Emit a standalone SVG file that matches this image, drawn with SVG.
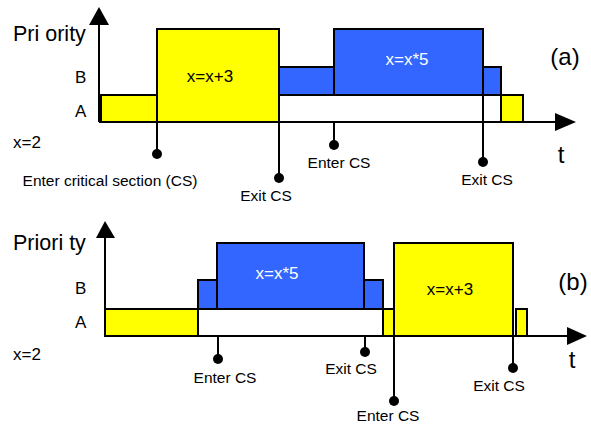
<svg xmlns="http://www.w3.org/2000/svg" width="591" height="428" viewBox="0 0 591 428">
<style>
  text { font-family: "Liberation Sans", Arial, sans-serif; fill: #000; }
  .lbl { font-size: 15.5px; text-anchor: middle; }
  .big { font-size: 21.5px; }
  .lev { font-size: 17px; }
  .code { font-size: 17px; text-anchor: middle; }
  .wcode { font-size: 17px; text-anchor: middle; fill: #fff; }
  .tag { font-size: 24px; text-anchor: middle; }
  .y { fill: #ffff00; stroke: #000; stroke-width: 2; }
  .b { fill: #3366ff; stroke: #000; stroke-width: 2; }
  .w { fill: #fff; stroke: #000; stroke-width: 2; }
  .ax { stroke: #000; stroke-width: 2; fill: none; }
  .head { fill: #000; }
  .pin { stroke: #000; stroke-width: 2; }
  .dot { fill: #000; }
</style>
<rect width="591" height="428" fill="#fff"/>

<!-- Panel (a) -->
<g id="panel-a">
  <g id="a-labels">
    <text class="big" x="13" y="41">Pri ority</text>
    <text class="lev" x="75" y="83">B</text>
    <text class="lev" x="75" y="117">A</text>
    <text class="lev" x="13" y="148">x=2</text>
    <text class="tag" x="565" y="65">(a)</text>
    <text class="tag" x="561" y="163">t</text>
  </g>
  <g id="a-bars">
    <rect class="y" x="101" y="95" width="56" height="27"/>
    <rect class="w" x="279" y="95" width="222" height="27"/>
    <rect class="b" x="279" y="67" width="55" height="28"/>
    <rect class="b" x="483" y="67" width="18" height="28"/>
    <rect class="b" x="334" y="29" width="149" height="66"/>
    <rect class="y" x="157" y="29" width="122" height="93"/>
    <rect class="y" x="501" y="95" width="22" height="27"/>
    <text class="code" x="210" y="82">x=x+3</text>
    <text class="wcode" x="407" y="65">x=x*5</text>
  </g>
  <g id="a-axes">
    <line class="ax" x1="99" y1="122" x2="99" y2="22"/>
    <polygon class="head" points="99,7 89,25 109,25"/>
    <line class="ax" x1="99" y1="122" x2="558" y2="122"/>
    <polygon class="head" points="576,122 555,113 555,131"/>
  </g>
  <g id="a-events">
    <line class="pin" x1="157" y1="122" x2="157" y2="154"/>
    <circle class="dot" cx="157" cy="154" r="5"/>
    <text class="lbl" x="110" y="186">Enter critical section (CS)</text>
    <line class="pin" x1="279" y1="122" x2="279" y2="178"/>
    <circle class="dot" cx="279" cy="178" r="5"/>
    <text class="lbl" x="266" y="201">Exit CS</text>
    <line class="pin" x1="334" y1="122" x2="334" y2="145"/>
    <circle class="dot" cx="334" cy="145" r="5"/>
    <text class="lbl" x="339" y="168">Enter CS</text>
    <line class="pin" x1="483" y1="95" x2="483" y2="162"/>
    <circle class="dot" cx="483" cy="162" r="5"/>
    <text class="lbl" x="487" y="185">Exit CS</text>
  </g>
</g>

<!-- Panel (b) -->
<g id="panel-b">
  <g id="b-labels">
    <text class="big" x="13" y="250">Priori ty</text>
    <text class="lev" x="75" y="294">B</text>
    <text class="lev" x="75" y="328">A</text>
    <text class="lev" x="13" y="360">x=2</text>
    <text class="tag" x="573" y="290">(b)</text>
    <text class="tag" x="572" y="368">t</text>
  </g>
  <g id="b-bars">
    <rect class="y" x="105" y="309" width="93" height="27"/>
    <rect class="w" x="198" y="309" width="185" height="27"/>
    <rect class="b" x="198" y="280" width="19" height="29"/>
    <rect class="b" x="364" y="280" width="19" height="29"/>
    <rect class="b" x="217" y="243" width="147" height="66"/>
    <rect class="y" x="383" y="309" width="11" height="27"/>
    <rect class="y" x="394" y="243" width="119" height="93"/>
    <rect class="y" x="516" y="309" width="11" height="27"/>
    <text class="wcode" x="277" y="279">x=x*5</text>
    <text class="code" x="450" y="295">x=x+3</text>
  </g>
  <g id="b-axes">
    <line class="ax" x1="105" y1="336" x2="105" y2="236"/>
    <polygon class="head" points="105,221 96,238 115,238"/>
    <line class="ax" x1="105" y1="336" x2="570" y2="336"/>
    <polygon class="head" points="587,336 567,327 567,345"/>
  </g>
  <g id="b-events">
    <line class="pin" x1="218" y1="336" x2="218" y2="359"/>
    <circle class="dot" cx="218" cy="359" r="5"/>
    <text class="lbl" x="225" y="383">Enter CS</text>
    <line class="pin" x1="365" y1="336" x2="365" y2="352"/>
    <circle class="dot" cx="365" cy="352" r="5"/>
    <text class="lbl" x="351" y="374">Exit CS</text>
    <line class="pin" x1="394" y1="336" x2="394" y2="401"/>
    <circle class="dot" cx="394" cy="401" r="5"/>
    <text class="lbl" x="388" y="421">Enter CS</text>
    <line class="pin" x1="513" y1="336" x2="513" y2="368"/>
    <circle class="dot" cx="513" cy="368" r="5"/>
    <text class="lbl" x="499" y="391">Exit CS</text>
  </g>
</g>
</svg>
